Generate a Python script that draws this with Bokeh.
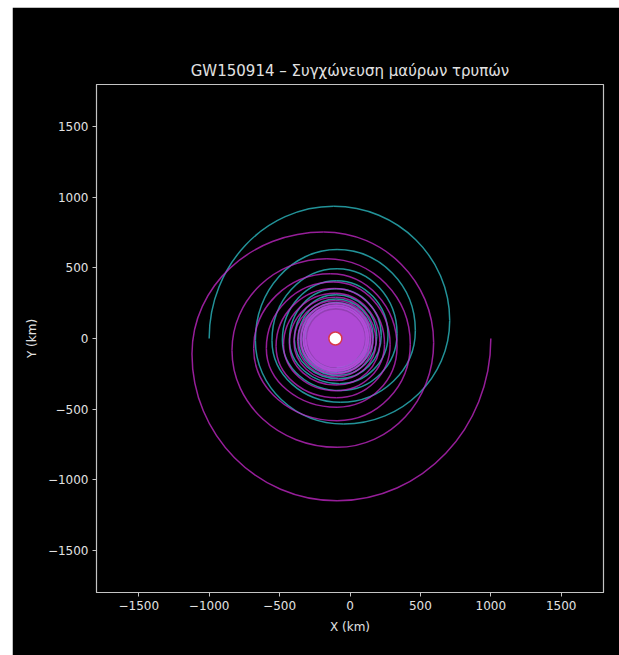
import numpy as np
from bokeh.plotting import figure
from bokeh.layouts import column, row
from bokeh.models import Range1d, FixedTicker, ColumnDataSource, Spacer
from bokeh.embed import file_html
from bokeh.resources import INLINE

# ---------------- data ----------------
title_text = "GW150914 – Συγχώνευση μαύρων τρυπών"
x_label = "X (km)"
y_label = "Y (km)"
ticks = [-1500, -1000, -500, 0, 500, 1000, 1500]
axis_min, axis_max = -1800, 1800

# body 1 (magenta): extreme points of the orbit (right, bottom, left, top, ...), clockwise, km
magenta_x = [1000, -92, -1122, -187, 594, -92, -838, -164, 428, -92, -684, -140,
             334, -92, -594, -120, 285, -95, -525, -110, 245, -98, -472, -105,
             212, -100, -430, -102, 185, -100, -398, -100, 163, -100, -372, -100,
             145, -100, -350, -100, 130, -100, -330, -100, 118, -100, -315]
magenta_y = [0, -1150, -109, 755, -30, -771, -85, 566, -40, -582, -70, 459,
             -60, -487, -70, 400, -45, -420, -55, 355, -40, -370, -45, 320,
             -30, -330, -35, 292, -25, -298, -25, 270, -20, -272, -20, 250,
             -15, -250, -15, 235, -10, -232, -10, 222, -5, -218, -5]

# body 2 (teal): extreme points (left, top, right, bottom, ...), clockwise, km
teal_x = [-1000, -116, 708, -45, -672, -92, 464, -69, -554, -92, 334, -69,
          -480, -95, 270, -75, -430, -97, 222, -80, -395, -98, 190, -85,
          -368, -99, 165, -88, -348, -100, 145, -90, -332, -100, 130, -92,
          -318, -100, 116, -95]
teal_y = [0, 937, 128, -606, -14, 630, 57, -452, -14, 495, 33, -369,
          -10, 410, 25, -320, -8, 352, 20, -285, -5, 310, 15, -262,
          -5, 280, 10, -243, -3, 256, 8, -228, -2, 238, 5, -215,
          0, 222, 3, -204]

# dense, merged inner turns (centre and radii, km)
core_x, core_y = -100, 0
core_r = [262, 238, 205]
core_alpha = [0.5, 0.6, 0.75]

# merger point
merger_x = [-104]
merger_y = [0]


def quarter_arcs(xs, ys, first_is_x_extreme):
    """Quarter ellipse arcs between successive extreme points as cubic Beziers."""
    kappa = 0.5523
    xs = np.asarray(xs, float)
    ys = np.asarray(ys, float)
    x0, y0, x1, y1 = xs[:-1], ys[:-1], xs[1:], ys[1:]
    n = len(x0)
    vert = (np.arange(n) % 2 == 0) == first_is_x_extreme  # tangent vertical at start
    cx0 = np.where(vert, x0, x0 + kappa * (x1 - x0))
    cy0 = np.where(vert, y0 + kappa * (y1 - y0), y0)
    cx1 = np.where(vert, x1 + kappa * (x0 - x1), x1)
    cy1 = np.where(vert, y1, y1 + kappa * (y0 - y1))
    return dict(x0=x0, y0=y0, x1=x1, y1=y1, cx0=cx0, cy0=cy0, cx1=cx1, cy1=cy1)


txt = "#e2e2e2"
frame_col = "#c4c4c4"

p = figure(frame_width=507, frame_height=508,
           x_range=Range1d(axis_min, axis_max), y_range=Range1d(axis_min, axis_max),
           output_backend="svg", toolbar_location=None,
           background_fill_color="black", border_fill_color="black",
           min_border_left=84, min_border_top=77, min_border_right=16, min_border_bottom=63)

p.title.text = title_text
p.title.align = "center"
p.title.text_color = txt
p.title.text_font = "DejaVu Sans"
p.title.text_font_size = "15px"
p.title.text_font_style = "normal"

p.grid.grid_line_color = None
p.outline_line_color = frame_col
p.outline_line_width = 1.2

for ax, lab in ((p.xaxis, x_label), (p.yaxis, y_label)):
    ax.ticker = FixedTicker(ticks=ticks)
    ax.major_label_overrides = {t: str(t).replace("-", "\u2212") for t in ticks}
    ax.axis_label = lab
    ax.axis_label_text_color = txt
    ax.axis_label_text_font = "DejaVu Sans"
    ax.axis_label_text_font_size = "12px"
    ax.axis_label_text_font_style = "normal"
    ax.major_label_text_color = txt
    ax.major_label_text_font = "DejaVu Sans"
    ax.major_label_text_font_size = "12px"
    ax.axis_line_color = frame_col
    ax.major_tick_line_color = frame_col
    ax.major_tick_out = 4
    ax.major_tick_in = 0
    ax.minor_tick_line_color = None
    ax.major_label_standoff = 4

p.xaxis.axis_label_standoff = 7
p.yaxis.axis_label_standoff = 6

teal_src = ColumnDataSource(quarter_arcs(teal_x, teal_y, True))
mag_src = ColumnDataSource(quarter_arcs(magenta_x, magenta_y, True))

p.bezier(x0="x0", y0="y0", x1="x1", y1="y1", cx0="cx0", cy0="cy0", cx1="cx1", cy1="cy1",
         source=teal_src, line_color="#30d0d8", line_alpha=0.7, line_width=1.5)
p.bezier(x0="x0", y0="y0", x1="x1", y1="y1", cx0="cx0", cy0="cy0", cx1="cx1", cy1="cy1",
         source=mag_src, line_color="#c828cc", line_alpha=0.75, line_width=1.5)

for rr, aa in zip(core_r, core_alpha):
    p.circle(x=[core_x], y=[core_y], radius=rr, fill_color="#b84ee0",
             fill_alpha=aa, line_color=None)

p.scatter(merger_x, merger_y, size=13, fill_color="white", line_color="#d83a4a", line_width=1.5)

layout = column(Spacer(height=7), row(Spacer(width=12), p))
open("out.html", "w").write(file_html(layout, INLINE))
